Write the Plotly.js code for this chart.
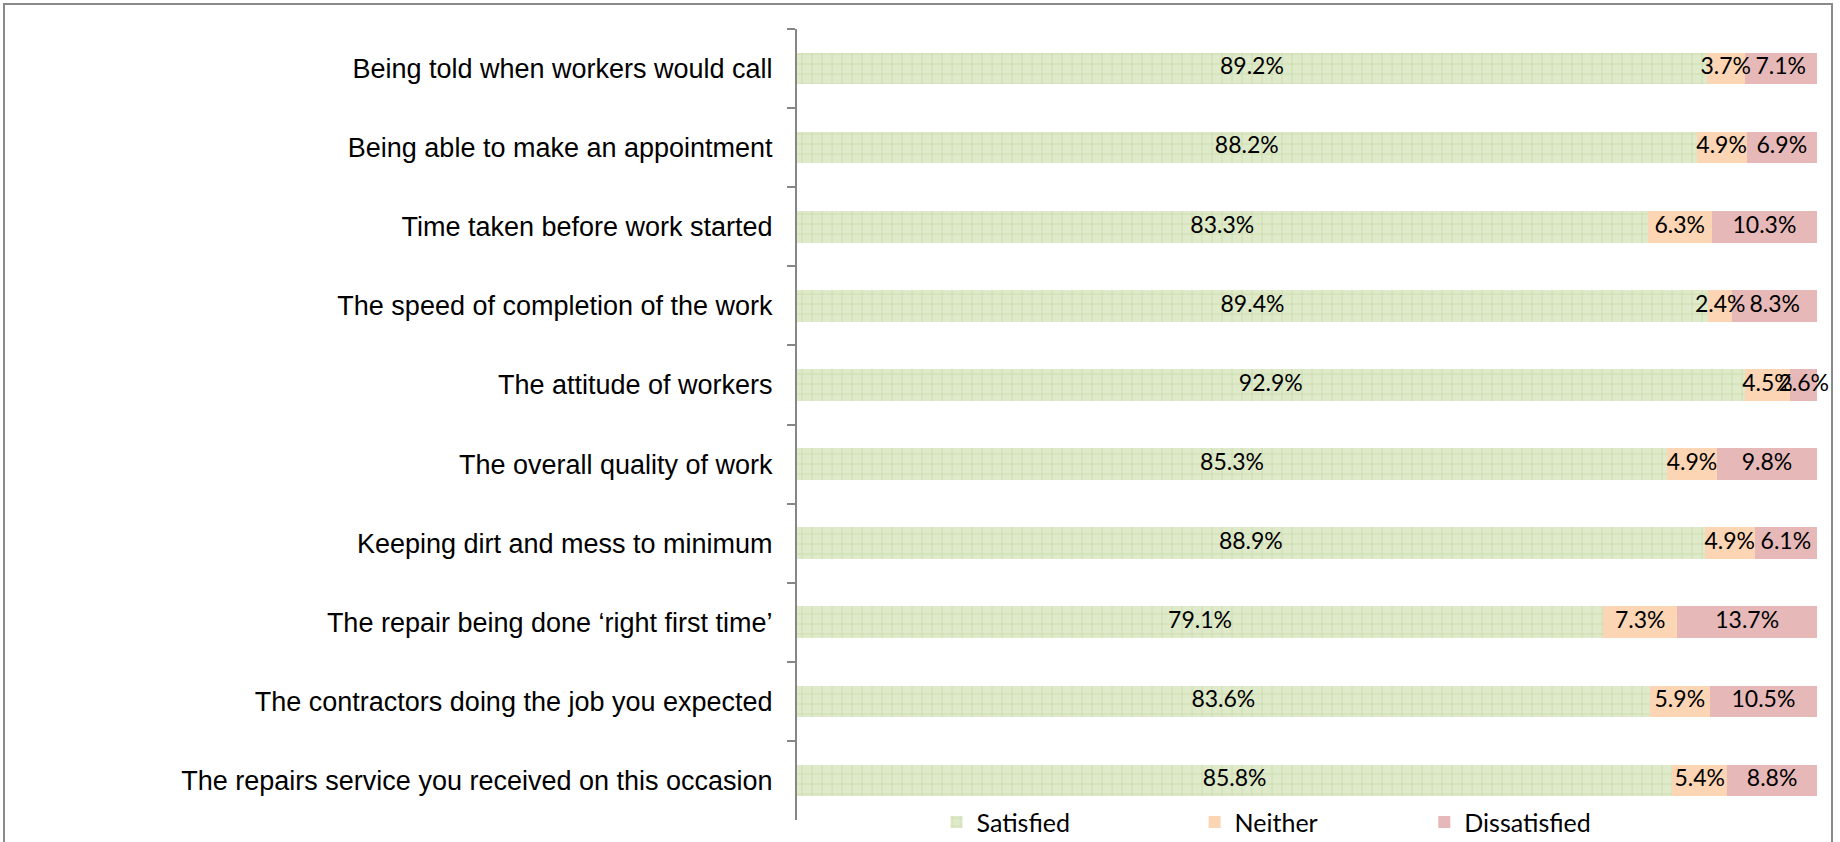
<!DOCTYPE html>
<html>
<head>
<meta charset="utf-8">
<script src="https://cdn.plot.ly/plotly-3.0.1.min.js"></script>
<style>
  html, body { margin: 0; padding: 0; background: #ffffff; overflow: hidden; }
  #chart { position: absolute; left: 0; top: 0; width: 1840px; height: 842px; }
  #frame { position: absolute; left: 3px; top: 3px; width: 1830px; height: 860px;
           border: 2px solid #8a8a8a; pointer-events: none; box-sizing: border-box; }
</style>
</head>
<body>
<div id="chart"></div>
<div id="frame"></div>
<script>
const categories = [
  "Being told when workers would call",
  "Being able to make an appointment",
  "Time taken before work started",
  "The speed of completion of the work",
  "The attitude of workers",
  "The overall quality of work",
  "Keeping dirt and mess to minimum",
  "The repair being done \u2018right first time\u2019",
  "The contractors doing the job you expected",
  "The repairs service you received on this occasion"
];
const satisfied    = [89.2, 88.2, 83.3, 89.4, 92.9, 85.3, 88.9, 79.1, 83.6, 85.8];
const neither      = [3.7, 4.9, 6.3, 2.4, 4.5, 4.9, 4.9, 7.3, 5.9, 5.4];
const dissatisfied = [7.1, 6.9, 10.3, 8.3, 2.6, 9.8, 6.1, 13.7, 10.5, 8.8];
const seriesNames  = ["Satisfied", "Neither", "Dissatisfied"];
const seriesColors = ["#dfeacb", "#fcd5b5", "#e6b9b8"];

const series = [satisfied, neither, dissatisfied];
const labelFont = {family: "Lato, 'Open Sans', sans-serif", size: 23, color: "#000000"};
const legendFont = {family: "Lato, 'Open Sans', sans-serif", size: 25, color: "#000000"};

// bars (100% stacked via barnorm)
const markers = [
  {color: seriesColors[0], line: {width: 0},
   pattern: {shape: "+", size: 10, solidity: 0.12, fgcolor: "#c3d79d", bgcolor: "#dfeacb", fillmode: "replace"}},
  {color: seriesColors[1], line: {width: 0}},
  {color: seriesColors[2], line: {width: 0}}
];
const legendIds = ["legend", "legend2", "legend3"];

const data = series.map((vals, i) => ({
  type: "bar",
  orientation: "h",
  name: seriesNames[i],
  y: categories,
  x: vals,
  width: 0.4,
  marker: markers[i],
  legend: legendIds[i],
  hoverinfo: "skip"
}));

// value labels drawn above all bars, centred on each normalised segment
const totals = categories.map((_, k) => series.reduce((s, arr) => s + arr[k], 0));
series.forEach((vals, i) => {
  const mids = vals.map((v, k) => {
    let start = 0;
    for (let j = 0; j < i; j++) start += series[j][k] / totals[k] * 100;
    return start + (v / totals[k] * 100) / 2;
  });
  data.push({
    type: "scatter",
    mode: "text",
    x: mids,
    y: categories,
    text: vals.map(v => v.toFixed(1) + "%"),
    textposition: "middle center",
    textfont: labelFont,
    showlegend: false,
    hoverinfo: "skip",
    cliponaxis: false
  });
});

function legendAt(x) {
  return {
    orientation: "h",
    x: x, xanchor: "left",
    y: -0.003, yanchor: "middle",
    bgcolor: "rgba(0,0,0,0)",
    font: legendFont
  };
}

const layout = {
  width: 1840,
  height: 842,
  paper_bgcolor: "rgba(0,0,0,0)",
  plot_bgcolor: "rgba(0,0,0,0)",
  barmode: "stack",
  barnorm: "percent",
  margin: {l: 797, r: 23, t: 29, b: 22, pad: 0, autoexpand: false},
  showlegend: true,
  legend: legendAt(0.1368),
  legend2: legendAt(0.3898),
  legend3: legendAt(0.6150),
  xaxis: {
    range: [0, 100],
    visible: false,
    fixedrange: true
  },
  yaxis: {
    type: "category",
    autorange: "reversed",
    showline: true,
    linecolor: "#868686",
    linewidth: 2,
    ticks: "outside",
    tickson: "boundaries",
    ticklen: 8,
    tickwidth: 2,
    tickcolor: "#868686",
    ticklabelstandoff: 17,
    showgrid: false,
    zeroline: false,
    automargin: false,
    tickfont: {family: "'Liberation Sans', Arial, sans-serif", size: 27, color: "#000000"},
    fixedrange: true
  }
};

Plotly.newPlot("chart", data, layout, {displayModeBar: false, staticPlot: true});
</script>
</body>
</html>
